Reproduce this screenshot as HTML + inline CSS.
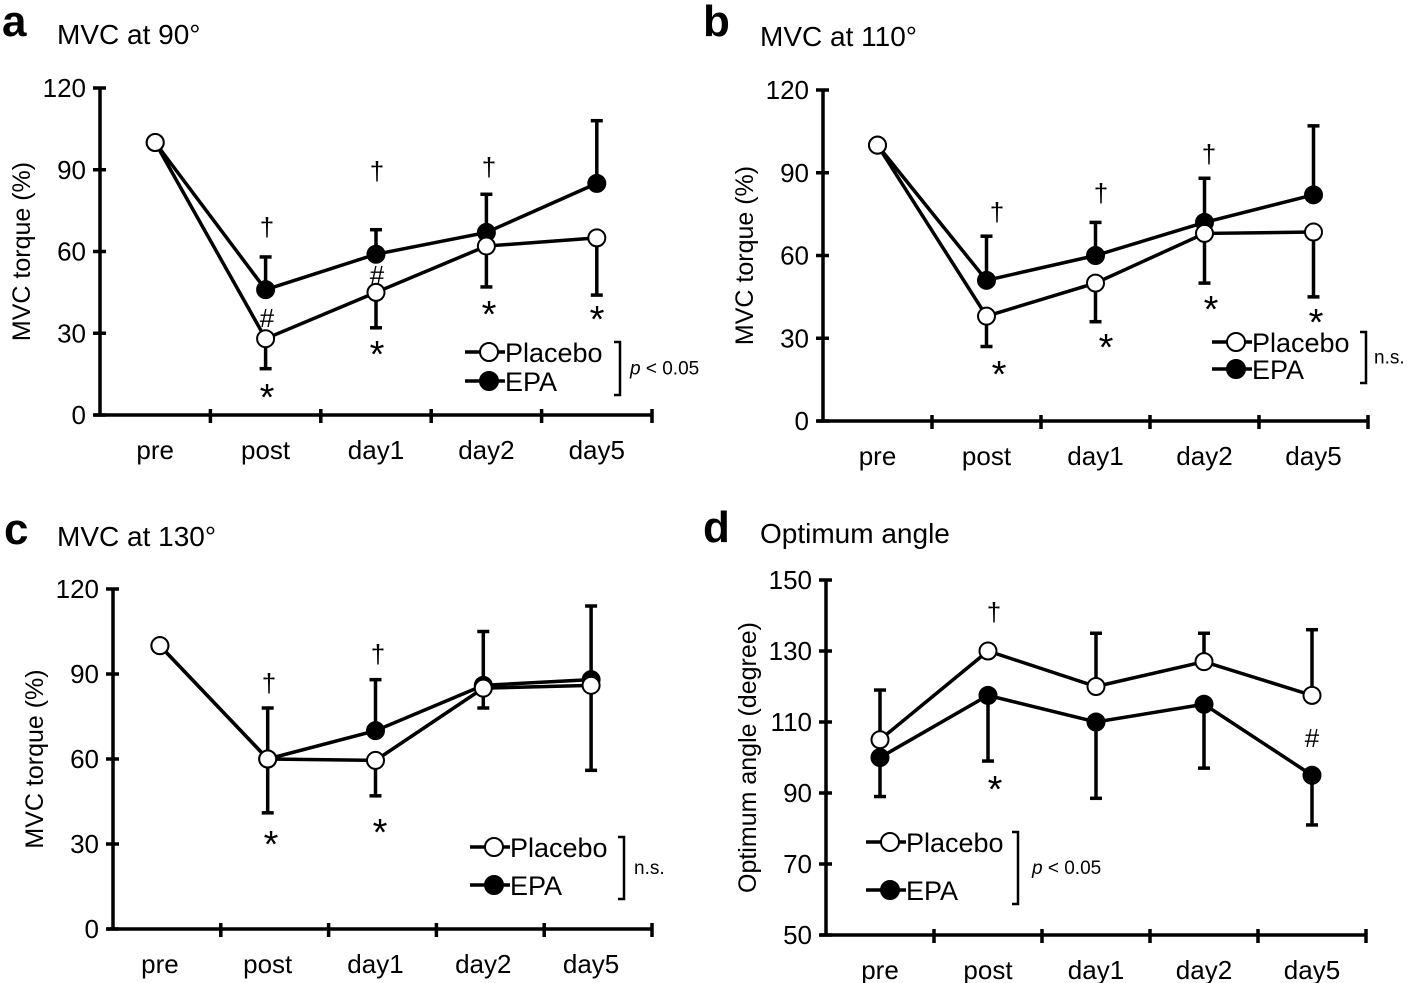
<!DOCTYPE html>
<html><head><meta charset="utf-8"><style>
html,body{margin:0;padding:0;background:#fff}
svg{display:block;font-family:"Liberation Sans",Arial,sans-serif}
</style></head><body>
<svg id="fig" width="1415" height="983" viewBox="0 0 1415 983" xmlns="http://www.w3.org/2000/svg"></svg>
<script>
const categories = ["pre","post","day1","day2","day5"];
const aPlacebo = [100,28,45,62,65];
const aPlaceboErrLow = [100,17,32,47,44];
const aEPA = [100,46,59,67,85];
const aEPAErrHigh = [100,58,68,81,108];
const bPlacebo = [100,38,50,68,68.5];
const bPlaceboErrLow = [100,27,36,50,45];
const bEPA = [100,51,60,72,82];
const bEPAErrHigh = [100,67,72,88,107];
const cPlacebo = [100,60,59.5,85,86];
const cPlaceboErrLow = [100,41,47,78,56];
const cEPA = [100,60,70,86,88];
const cEPAErrHigh = [100,78,88,105,114];
const dPlacebo = [105,130,120,127,117.5];
const dPlaceboErrHigh = [119,130,135,135,136];
const dEPA = [100,117.5,110,115,95];
const dEPAErrLow = [89,99,88.5,97,81];
const ticksTorque = [0,30,60,90,120];
const ticksAngle = [50,70,90,110,130,150];

const NS="http://www.w3.org/2000/svg";
const svg=document.getElementById('fig');
function mk(tag,attrs,parent,text){const e=document.createElementNS(NS,tag);for(const k in attrs)e.setAttribute(k,attrs[k]);if(text!==undefined)e.textContent=text;(parent||svg).appendChild(e);return e;}

const panels=[
 {id:'a',title:'MVC at 90°',x0:100,x1:652,yTop:88,yBot:415,ymin:0,ymax:120,ticks:ticksTorque,ylabel:'MVC torque (%)',
  P:aPlacebo,PE:aPlaceboErrLow,E:aEPA,EE:aEPAErrHigh,lab:[2,36],tit:[57,44]},
 {id:'b',title:'MVC at 110°',x0:823,x1:1368,yTop:90,yBot:421,ymin:0,ymax:120,ticks:ticksTorque,ylabel:'MVC torque (%)',
  P:bPlacebo,PE:bPlaceboErrLow,E:bEPA,EE:bEPAErrHigh,lab:[703,36],tit:[760,46]},
 {id:'c',title:'MVC at 130°',x0:113,x1:652,yTop:589,yBot:929,ymin:0,ymax:120,ticks:ticksTorque,ylabel:'MVC torque (%)',
  P:cPlacebo,PE:cPlaceboErrLow,E:cEPA,EE:cEPAErrHigh,lab:[4,544],tit:[57,546],shift:-7},
 {id:'d',title:'Optimum angle',x0:826,x1:1366,yTop:580,yBot:935,ymin:50,ymax:150,ticks:ticksAngle,ylabel:'Optimum angle (degree)',
  P:dPlacebo,PE:dPlaceboErrHigh,E:dEPA,EE:dEPAErrLow,lab:[703,542],tit:[760,543]}
];

panels.forEach(p=>{
 const g=mk('g',{},svg);
 
 
 const bw=(p.x1-p.x0)/categories.length;
 const sh=p.shift||0;
 const xs=i=>p.x0+bw*(i+0.5)+sh;
 const ys=v=>p.yBot-(v-p.ymin)/(p.ymax-p.ymin)*(p.yBot-p.yTop);
 const pl=mk('text',{x:p.lab[0],y:p.lab[1],'font-size':44,'font-weight':'bold'},g,p.id);
 
 const tt=mk('text',{x:p.tit[0],y:p.tit[1],'font-size':28},g,p.title);
 
 const ax=mk('g',{stroke:'#000','stroke-width':3.5},g);
 
 mk('line',{x1:p.x0,y1:p.yTop,x2:p.x0,y2:p.yBot},ax);
 mk('line',{x1:p.x0-6,y1:p.yBot,x2:p.x1,y2:p.yBot},ax);
 p.ticks.forEach(t=>{
  mk('line',{x1:p.x0-7,y1:ys(t),x2:p.x0+6,y2:ys(t)},ax);
  const tl=mk('text',{x:p.x0-14,y:ys(t)+9,'font-size':26,'text-anchor':'end',stroke:'none'},g,t);
  
 });
 categories.forEach((c,i)=>{
  mk('line',{x1:p.x0+bw*(i+1),y1:p.yBot-6,x2:p.x0+bw*(i+1),y2:p.yBot+8},ax);
  const cl=mk('text',{x:xs(i),y:p.yBot+44,'font-size':26,'text-anchor':'middle'},g,c);
  
 });
 const yc=(p.yTop+p.yBot)/2;
 const yl=mk('text',{x:0,y:0,'font-size':25,'text-anchor':'middle',transform:`translate(${p.x0-70},${yc}) rotate(-90)`},g,p.ylabel);
 
 function err(vals,errs,name){
  const eg=mk('g',{stroke:'#000','stroke-width':3.5},g);
  
  vals.forEach((v,i)=>{ if(errs[i]===v) return;
   mk('line',{x1:xs(i),y1:ys(v),x2:xs(i),y2:ys(errs[i])},eg);
   mk('line',{x1:xs(i)-6,y1:ys(errs[i]),x2:xs(i)+6,y2:ys(errs[i])},eg);
  });
 }
 err(p.P,p.PE,'placebo-error-bars');
 err(p.E,p.EE,'epa-error-bars');
 function series(vals,fill,name){
  const sg=mk('g',{},g);
  
  mk('polyline',{points:vals.map((v,i)=>xs(i)+','+ys(v)).join(' '),fill:'none',stroke:'#000','stroke-width':3.5},sg);
  vals.forEach((v,i)=>{const c=mk('circle',{cx:xs(i),cy:ys(v),r:8.5,fill:fill,stroke:'#000','stroke-width':2},sg);
   });
 }
 series(p.E,'#000','epa-series');
 series(p.P,'#fff','placebo-series');
});

function txt(x,y,s,sz,name,extra){const t=mk('text',Object.assign({x:x,y:y,'font-size':sz,'text-anchor':'middle'},extra||{}),svg,s);
 return t;}
[[267,236,'†'],[377,180,'†'],[489,176,'†'],[997,221,'†'],[1101,202,'†'],[1209,163,'†'],[269,692,'†'],[378,663,'†'],[994,621,'†']].forEach(a=>txt(a[0],a[1],a[2],26,'dagger-mark'));
[[267,327,'#'],[377,284,'#'],[1312,747,'#']].forEach(a=>txt(a[0],a[1],a[2],26,'hash-mark'));
[[267,410,'*'],[377,367,'*'],[489,327,'*'],[597,332,'*'],[999,387,'*'],[1106,360,'*'],[1211,322,'*'],[1316,335,'*'],[271,857,'*'],[380,845,'*'],[995,802,'*']].forEach(a=>txt(a[0],a[1],a[2],38,'asterisk-mark'));

function legend(x,y1,y2,bx,pt,ptx,id){
 const lg=mk('g',{},svg);
 
 [[y1,'#fff','Placebo'],[y2,'#000','EPA']].forEach(r=>{
  const e=mk('g',{},lg);
  mk('line',{x1:x,y1:r[0],x2:x+40,y2:r[0],stroke:'#000','stroke-width':3.5},e);
  mk('circle',{cx:x+24,cy:r[0],r:9,fill:r[1],stroke:'#000','stroke-width':2},e);
  mk('text',{x:x+40,y:r[0]+10,'font-size':27},e,r[2]);
 });
 mk('polyline',{points:`${bx-6},${y1-10} ${bx},${y1-10} ${bx},${y2+14} ${bx-6},${y2+14}`,fill:'none',stroke:'#000','stroke-width':2.5},lg);
 const t=mk('text',{x:bx+ptx,y:(y1+y2)/2+8,'font-size':19},lg);
 if(pt){const i=mk('tspan',{'font-style':'italic'},t,'p');mk('tspan',{},t,' < 0.05');}else{t.textContent='n.s.';}
}
legend(465,352,381,620,true,10,'a');
legend(1212,342,369,1366,false,8,'b');
legend(470,847,885,624,false,10,'c');
legend(866,842,890,1018,true,14,'d');
</script>
</body></html>
